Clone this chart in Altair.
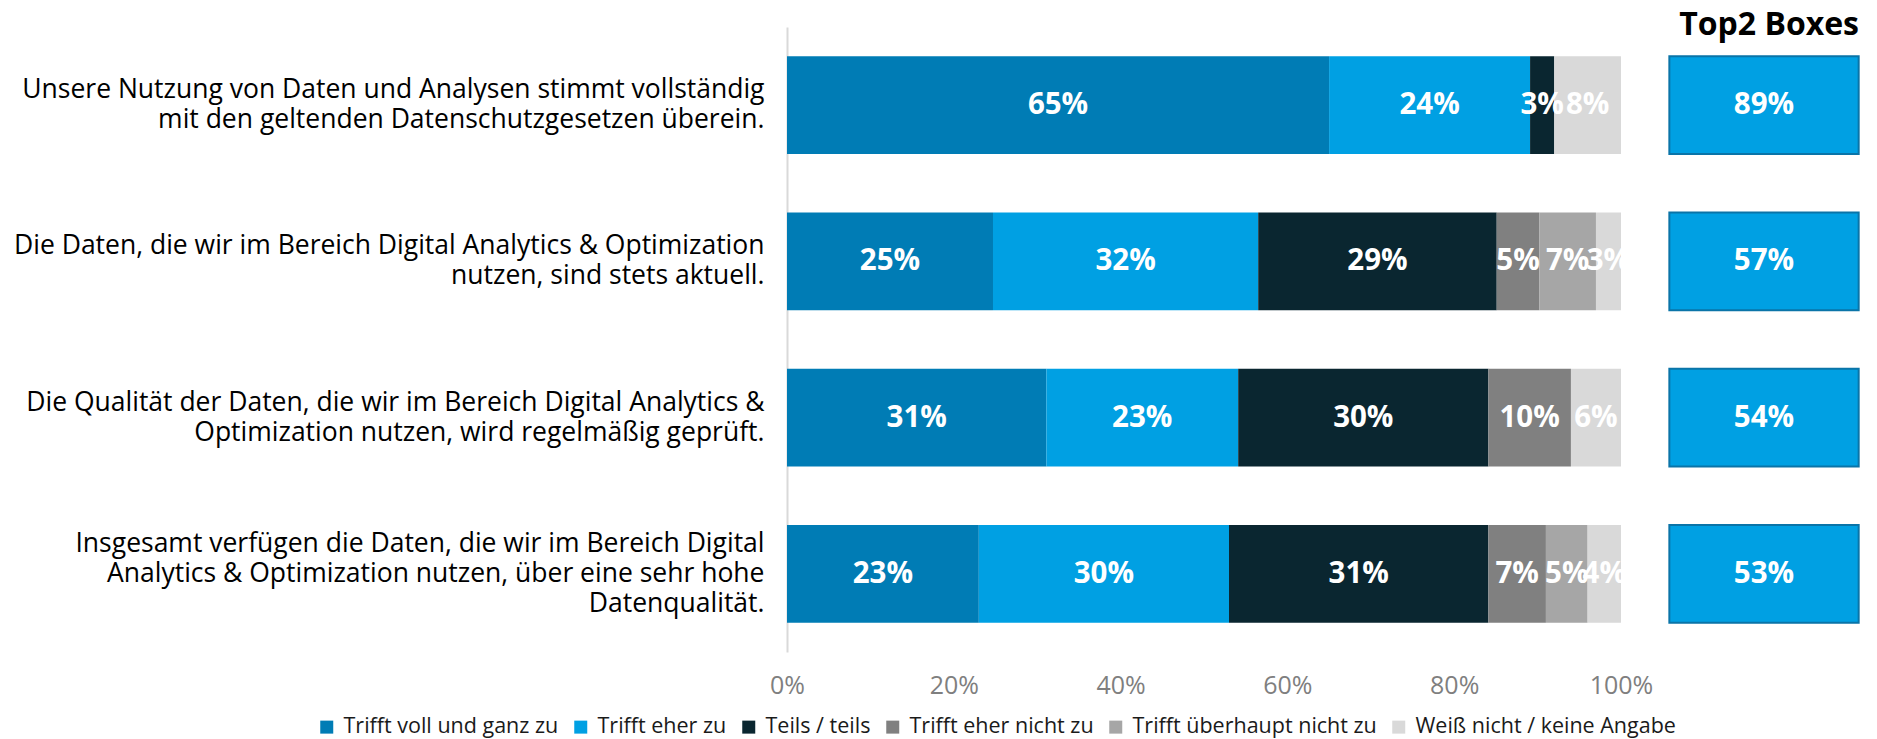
import altair as alt
import pandas as pd

statements = [
    "Unsere Nutzung von Daten und Analysen stimmt vollständig|mit den geltenden Datenschutzgesetzen überein.",
    "Die Daten, die wir im Bereich Digital Analytics & Optimization|nutzen, sind stets aktuell.",
    "Die Qualität der Daten, die wir im Bereich Digital Analytics &|Optimization nutzen, wird regelmäßig geprüft.",
    "Insgesamt verfügen die Daten, die wir im Bereich Digital|Analytics & Optimization nutzen, über eine sehr hohe|Datenqualität.",
]
categories = [
    "Trifft voll und ganz zu",
    "Trifft eher zu",
    "Teils / teils",
    "Trifft eher nicht zu",
    "Trifft überhaupt nicht zu",
    "Weiß nicht / keine Angabe",
]
voll = [65.0, 24.7, 31.1, 23.0]
eher = [24.1, 31.8, 23.0, 30.0]
teils = [2.9, 28.6, 30.0, 31.1]
eher_nicht = [0.0, 5.1, 9.9, 6.9]
ueberhaupt = [0.0, 6.8, 0.0, 5.0]
weiss = [8.0, 3.0, 6.0, 4.0]
top2 = [89, 57, 54, 53]
tick_values = [0, 20, 40, 60, 80, 100]
top2_title = "Top2 Boxes"

colors = ["#007cb5", "#00a0e3", "#0a2630", "#808080", "#a6a6a6", "#d9d9d9"]

FONT = "Open Sans"
X_MAX = 128.54
BOX_L, BOX_R = 105.8, 128.5
LINE_H = 30
VAL_SIZE = 29.5

series = [voll, eher, teils, eher_nicht, ueberhaupt, weiss]
rows = []
for si, s in enumerate(statements):
    for ci, c in enumerate(categories):
        v = series[ci][si]
        rows.append({"statement": s, "category": c, "order": ci, "value": v,
                     "label": f"{round(v)}%"})
df = pd.DataFrame(rows)
df_top = pd.DataFrame({"statement": statements, "top2": top2,
                       "label": [f"{v}%" for v in top2]})

x_scale = alt.Scale(domain=[0, X_MAX], nice=False, zero=True)
y_scale = alt.Scale(domain=statements, paddingInner=0.375, paddingOuter=0.1875)

three_line = [s for s in statements if s.count("|") == 2]
test_expr = " || ".join(f"datum.value === '{s}'" for s in three_line) or "false"

y_enc = alt.Y("statement:N", scale=y_scale, sort=statements,
              axis=alt.Axis(title=None, ticks=False, tickSize=0, domainColor="#d9d9d9",
                            domainWidth=2, labelPadding=23, labelFont=FONT,
                            labelFontSize=26.5, labelColor="#000000", labelLineHeight=LINE_H,
                            labelLimit=0, labelAlign="right", labelBaseline="middle",
                            labelOffset={"condition": {"test": test_expr, "value": -LINE_H},
                                         "value": -LINE_H / 2},
                            labelExpr="split(datum.label, '|')"))

base = alt.Chart(df).transform_filter("datum.value > 0").transform_stack(
    stack="value", groupby=["statement"], as_=["x0", "x1"],
    sort=[alt.SortField("order", order="ascending")]
).transform_calculate(mid="(datum.x0 + datum.x1) / 2")

bars = base.mark_bar().encode(
    x=alt.X("x0:Q", scale=x_scale,
            axis=alt.Axis(title=None, values=tick_values, labelExpr="datum.value + '%'",
                          domain=False, ticks=False, tickSize=0, grid=False,
                          labelFlush=False, labelFont=FONT, labelFontSize=25,
                          labelColor="#7f7f7f", labelPadding=21)),
    x2="x1:Q",
    y=y_enc,
    color=alt.Color("category:N", scale=alt.Scale(domain=categories, range=colors),
                    legend=alt.Legend(title=None, orient="none", legendX=-471, legendY=689,
                                      direction="horizontal", columns=6,
                                      labelFont=FONT, labelFontSize=21.5, labelLimit=0,
                                      labelColor="#1a1a1a", symbolType="square",
                                      symbolSize=169, symbolStrokeWidth=0,
                                      labelOffset=6, columnPadding=11, padding=0)),
)

bar_text = base.mark_text(font=FONT, fontSize=VAL_SIZE, fontWeight="bold", color="white",
                          baseline="middle", align="center").encode(
    x=alt.X("mid:Q", scale=x_scale),
    y=alt.Y("statement:N", scale=y_scale, sort=statements),
    text="label:N",
)

top_base = alt.Chart(df_top)
boxes = top_base.mark_bar(color="#00a0e3", stroke="#0a74a8", strokeWidth=2).encode(
    x=alt.datum(BOX_L, scale=x_scale),
    x2=alt.datum(BOX_R),
    y=alt.Y("statement:N", scale=y_scale, sort=statements),
)
box_text = top_base.mark_text(font=FONT, fontSize=VAL_SIZE, fontWeight="bold", color="white",
                              baseline="middle", align="center").encode(
    x=alt.datum((BOX_L + BOX_R) / 2, scale=x_scale),
    y=alt.Y("statement:N", scale=y_scale, sort=statements),
    text="label:N",
)

title_text = alt.Chart(pd.DataFrame({"t": [top2_title]})).mark_text(
    font=FONT, fontSize=32, fontWeight="bold", color="#000000",
    align="right", baseline="alphabetic").encode(
    x=alt.datum(X_MAX, scale=x_scale),
    y=alt.value(8),
    text="t:N",
)

chart = alt.layer(bars, bar_text, boxes, box_text, title_text).properties(
    width=1072, height=625,
    autosize=alt.AutoSizeParams(type="none"),
    padding={"left": 779, "top": 19, "right": 10, "bottom": 86},
).configure_view(stroke=None)

chart.save("out.html", embed_options={"renderer": "svg", "actions": False})
